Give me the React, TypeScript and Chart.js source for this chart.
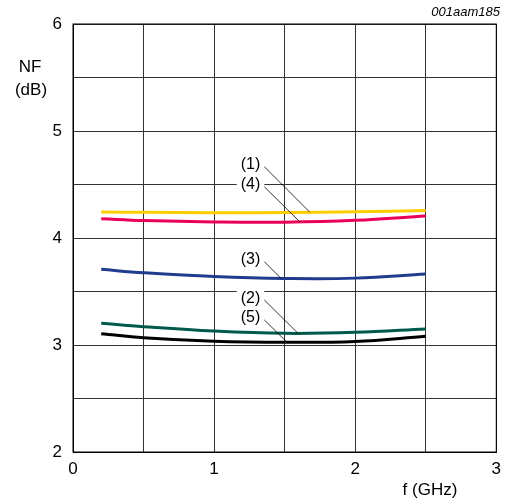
import React, { useEffect, useRef } from "react";
import { Chart, registerables } from "chart.js";

Chart.register(...registerables);

const freqs = [0.2, 0.5, 1.0, 1.5, 2.0, 2.5];
const nf1 = [4.243, 4.24, 4.237, 4.238, 4.245, 4.258];
const nf4 = [4.18, 4.163, 4.15, 4.148, 4.165, 4.205];
const nf3 = [3.707, 3.676, 3.64, 3.622, 3.625, 3.664];
const nf2 = [3.203, 3.171, 3.13, 3.109, 3.118, 3.15];
const nf5 = [3.106, 3.068, 3.035, 3.025, 3.033, 3.081];

const seriesNames = ["(1)", "(4)", "(3)", "(2)", "(5)"];
const seriesColors = ["#FFCC00", "#E8005A", "#1F3C8F", "#005A4B", "#000000"];
const seriesValues = [nf1, nf4, nf3, nf2, nf5];

// annotation labels (data coordinates) and leader lines
const labelX = [1.258, 1.258, 1.258, 1.258, 1.258];
const labelY = [4.682, 4.495, 3.794, 3.43, 3.259];
const leaderStartX = [1.356, 1.356, 1.356, 1.356, 1.356];
const leaderStartY = [4.666, 4.479, 3.779, 3.421, 3.234];
const leaderEndX = [1.677, 1.607, 1.474, 1.595, 1.513];
const leaderEndY = [4.243, 4.152, 3.623, 3.109, 3.031];

const xTicks = [0, 1, 2, 3];
const yTicks = [2, 3, 4, 5, 6];

const FONT = "'Liberation Sans', Arial, sans-serif";

export default function App() {
  const ref = useRef<HTMLCanvasElement | null>(null);
  useEffect(() => {
    if (!ref.current) return;
    const annotPlugin = {
      id: "annot",
      afterDatasetsDraw(chart: any) {
        const ctx = chart.ctx;
        const xs = chart.scales.x;
        const ys = chart.scales.y;
        ctx.save();
        ctx.font = `16px ${FONT}`;
        ctx.textAlign = "center";
        ctx.textBaseline = "middle";
        for (let i = 0; i < seriesNames.length; i++) {
          const lx = xs.getPixelForValue(labelX[i]);
          const ly = ys.getPixelForValue(labelY[i]);
          const w = ctx.measureText(seriesNames[i]).width;
          ctx.fillStyle = "#fff";
          ctx.fillRect(lx - w / 2 - 4, ly - 9, w + 8, 18);
        }
        ctx.strokeStyle = "#000";
        ctx.lineWidth = 0.8;
        for (let i = 0; i < seriesNames.length; i++) {
          ctx.beginPath();
          ctx.moveTo(xs.getPixelForValue(leaderStartX[i]), ys.getPixelForValue(leaderStartY[i]));
          ctx.lineTo(xs.getPixelForValue(leaderEndX[i]), ys.getPixelForValue(leaderEndY[i]));
          ctx.stroke();
        }
        ctx.fillStyle = "#000";
        for (let i = 0; i < seriesNames.length; i++) {
          ctx.fillText(seriesNames[i], xs.getPixelForValue(labelX[i]), ys.getPixelForValue(labelY[i]));
        }
        // axis titles
        ctx.font = `17px ${FONT}`;
        ctx.fillText("NF", 30, 67);
        ctx.fillText("(dB)", 31, 90);
        ctx.fillText("f (GHz)", 430, 490);
        ctx.font = `italic 13px ${FONT}`;
        ctx.textAlign = "right";
        ctx.fillText("001aam185", 500, 12);
        ctx.restore();
      },
    };
    const chart = new Chart(ref.current, {
      type: "line",
      data: {
        datasets: seriesValues.map((vals, i) => ({
          label: seriesNames[i],
          data: freqs.map((f, j) => ({ x: f, y: vals[j] })),
          borderColor: seriesColors[i],
          borderWidth: 3,
          pointRadius: 0,
          tension: 0.4,
          fill: false,
        })),
      },
      options: {
        responsive: false,
        animation: false,
        layout: { padding: { top: 24, right: 8, left: 0, bottom: 0 } },
        plugins: { legend: { display: false }, tooltip: { enabled: false } },
        scales: {
          x: {
            type: "linear",
            min: 0,
            max: 3,
            afterFit(scale: any) {
              scale.height = 51;
            },
            afterBuildTicks(scale: any) {
              const t = [];
              for (let v = 0; v <= 3.0001; v += 0.5) t.push({ value: v });
              scale.ticks = t;
            },
            grid: { color: "#333", lineWidth: 1, drawTicks: false },
            border: { color: "#000", width: 1 },
            ticks: {
              padding: 7,
              autoSkip: false,
              maxRotation: 0,
              color: "#000",
              font: { size: 17, family: FONT },
              callback: (v: any) => (xTicks.includes(Number(v)) ? String(v) : ""),
            },
          },
          y: {
            type: "linear",
            min: 2,
            max: 6,
            afterFit(scale: any) {
              scale.width = 73;
            },
            afterBuildTicks(scale: any) {
              const t = [];
              for (let v = 2; v <= 6.0001; v += 0.5) t.push({ value: v });
              scale.ticks = t;
            },
            grid: { color: "#333", lineWidth: 1, drawTicks: false },
            border: { color: "#000", width: 1 },
            ticks: {
              padding: 11,
              autoSkip: false,
              color: "#000",
              font: { size: 17, family: FONT },
              callback: (v: any) => (yTicks.includes(Number(v)) ? String(v) : ""),
            },
          },
        },
      },
      plugins: [
        annotPlugin,
        {
          id: "frameBorder",
          afterDraw(chart: any) {
            const { ctx, chartArea } = chart;
            ctx.save();
            ctx.strokeStyle = "#000";
            ctx.lineWidth = 1;
            ctx.strokeRect(chartArea.left, chartArea.top, chartArea.right - chartArea.left, chartArea.bottom - chartArea.top);
            ctx.restore();
          },
        },
      ],
    } as any);
    return () => chart.destroy();
  }, []);
  return (
    <div style={{ position: "fixed", left: 0, top: 0, width: 508, height: 503, background: "#fff" }}>
      <canvas ref={ref} width={508} height={503} style={{ width: 508, height: 503 }} />
    </div>
  );
}
